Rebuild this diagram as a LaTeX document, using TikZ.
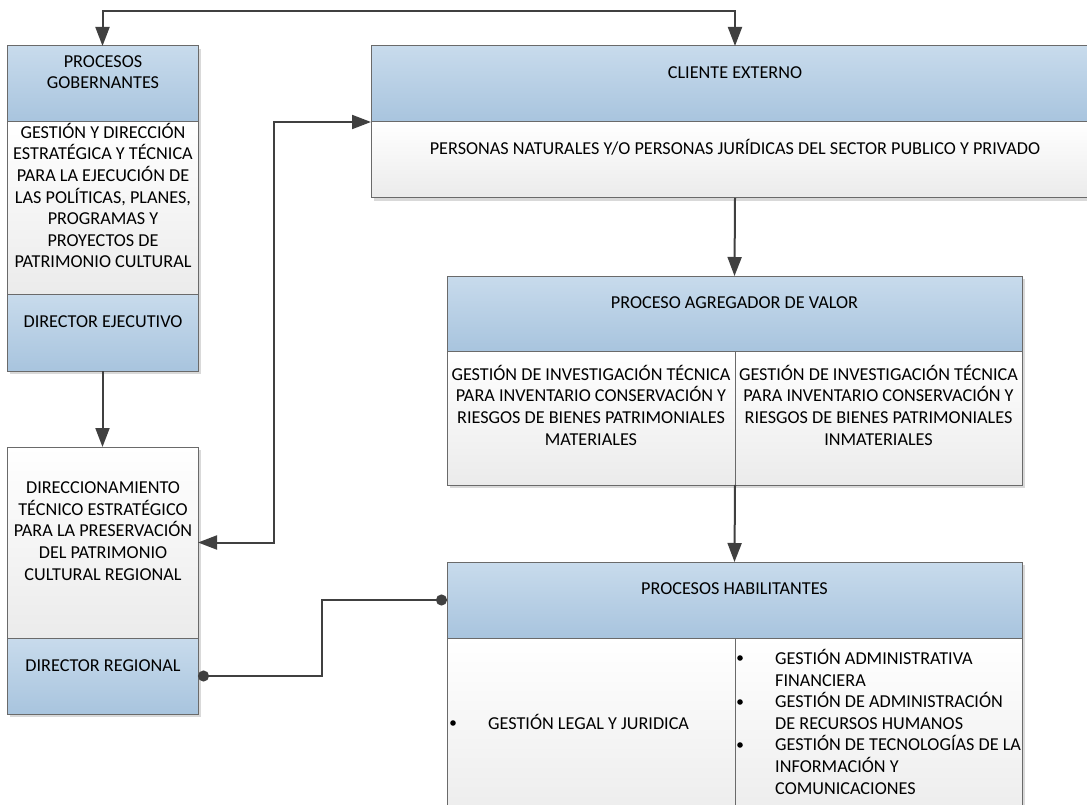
\documentclass[tikz,border=0pt]{standalone}
\usepackage{fontspec}
\setmainfont{Carlito}
\usetikzlibrary{arrows.meta}
\definecolor{hdrtop}{HTML}{C8DBEC}
\definecolor{hdrbot}{HTML}{A8C4DE}
\definecolor{bodtop}{HTML}{FFFFFF}
\definecolor{bodbot}{HTML}{EBEBEB}
\definecolor{edge}{HTML}{6A6A6A}
\definecolor{wirec}{HTML}{404040}
\begin{document}
\begin{tikzpicture}[x=1pt,y=-1pt,
  sect/.style={draw=edge, line width=1pt, anchor=north west, inner sep=0pt, outer sep=0pt},
  hdr/.style={sect, top color=hdrtop, bottom color=hdrbot},
  bod/.style={sect, top color=bodtop, bottom color=bodbot},
  boxshadow/.style={fill=black!15},
  txt/.style={font=\fontsize{18.2}{21.6}\selectfont, align=center, inner sep=0pt, anchor=base},
  ltxt/.style={txt, align=left, anchor=base west},
  wire/.style={draw=wirec, line width=2pt},
  arr/.style={wire, -{Triangle[length=19pt,width=14pt]}},
  biarr/.style={wire, {Triangle[length=19pt,width=14pt]}-{Triangle[length=19pt,width=14pt]}},
  dotwire/.style={wire, {Circle[length=11pt]}-{Circle[length=11pt]}},
  bullet/.style={fill=black}
]
\useasboundingbox (0,0) rectangle (1087,805);
\clip (0,0) rectangle (1087,805);

% drop shadows of the boxes
\fill[boxshadow] (10,49) rectangle (201,374);
\fill[boxshadow] (10,450) rectangle (201,717);
\fill[boxshadow] (374,49) rectangle (1102,201);
\fill[boxshadow] (450,279) rectangle (1025,488);
\fill[boxshadow] (450,565) rectangle (1025,833);

% procesos gobernantes (multi-line texts are placed by the baseline of their last line)
\node[hdr, minimum width=191pt, minimum height=76pt] (gobH) at (7,46) {};
\node[bod, minimum width=191pt, minimum height=172pt] (gobM) at (7,122) {};
\node[hdr, minimum width=191pt, minimum height=77pt] (gobB) at (7,294) {};
\node[txt] (gobHt) at (103,89) {PROCESOS\\GOBERNANTES};
\node[txt] (gobMt) at (103,268) {GESTIÓN Y DIRECCIÓN\\ESTRATÉGICA Y TÉCNICA\\PARA LA EJECUCIÓN DE\\LAS POLÍTICAS, PLANES,\\PROGRAMAS Y\\PROYECTOS DE\\PATRIMONIO CULTURAL};
\node[txt] (gobBt) at (103,327) {DIRECTOR EJECUTIVO};

% direccionamiento regional
\node[bod, minimum width=191pt, minimum height=191pt] (dirT) at (7,447) {};
\node[hdr, minimum width=191pt, minimum height=76pt] (dirR) at (7,638) {};
\node[txt] (dirTt) at (103,580) {DIRECCIONAMIENTO\\TÉCNICO ESTRATÉGICO\\PARA LA PRESERVACIÓN\\DEL PATRIMONIO\\CULTURAL REGIONAL};
\node[txt] (dirRt) at (103,671) {DIRECTOR REGIONAL};

% cliente externo
\node[hdr, minimum width=728pt, minimum height=76pt] (cliH) at (371,46) {};
\node[bod, minimum width=728pt, minimum height=76pt] (cliL) at (371,122) {};
\node[txt] (cliHt) at (735,79) {CLIENTE EXTERNO};
\node[txt] (cliLt) at (735,155) {PERSONAS NATURALES Y/O PERSONAS JURÍDICAS DEL SECTOR PUBLICO Y PRIVADO};

% proceso agregador de valor
\node[hdr, minimum width=575pt, minimum height=75pt] (agrH) at (447,276) {};
\node[bod, minimum width=288pt, minimum height=134pt] (agrL) at (447,351) {};
\node[bod, minimum width=287pt, minimum height=134pt] (agrR) at (735,351) {};
\node[txt] (agrHt) at (734.5,308) {PROCESO AGREGADOR DE VALOR};
\node[txt] (agrLt) at (591,445) {GESTIÓN DE INVESTIGACIÓN TÉCNICA\\PARA INVENTARIO CONSERVACIÓN Y\\RIESGOS DE BIENES PATRIMONIALES\\MATERIALES};
\node[txt] (agrRt) at (878.5,445) {GESTIÓN DE INVESTIGACIÓN TÉCNICA\\PARA INVENTARIO CONSERVACIÓN Y\\RIESGOS DE BIENES PATRIMONIALES\\INMATERIALES};

% procesos habilitantes
\node[hdr, minimum width=575pt, minimum height=76pt] (habH) at (447,562) {};
\node[bod, minimum width=288pt, minimum height=192pt] (habL) at (447,638) {};
\node[bod, minimum width=287pt, minimum height=192pt] (habR) at (735,638) {};
\node[txt] (habHt) at (734.5,594) {PROCESOS HABILITANTES};
\fill[bullet] (453,723) circle (2.8);
\node[ltxt] (habLt) at (488,729) {GESTIÓN LEGAL Y JURIDICA};
\fill[bullet] (740,658) circle (2.8);
\fill[bullet] (740,702) circle (2.8);
\fill[bullet] (740,745) circle (2.8);
\node[ltxt] (habRt) at (775,794) {GESTIÓN ADMINISTRATIVA\\FINANCIERA\\GESTIÓN DE ADMINISTRACIÓN\\DE RECURSOS HUMANOS\\GESTIÓN DE TECNOLOGÍAS DE LA\\INFORMACIÓN Y\\COMUNICACIONES};

% connectors
\draw[biarr] (gobH.north) -- ++(0,-35) -| (cliH.north);
\draw[arr] (gobB.south) -- (dirT.north);
\draw[arr] (cliL.south) -- (agrH.north);
\draw[arr] (agrL.south east) -- (habH.north);
\draw[biarr] (cliH.south west) -- ++(-97,0) |- (dirT.east);
\draw[dotwire] (dirR.east) -- ++(124,0) |- (habH.west);
\end{tikzpicture}
\end{document}
